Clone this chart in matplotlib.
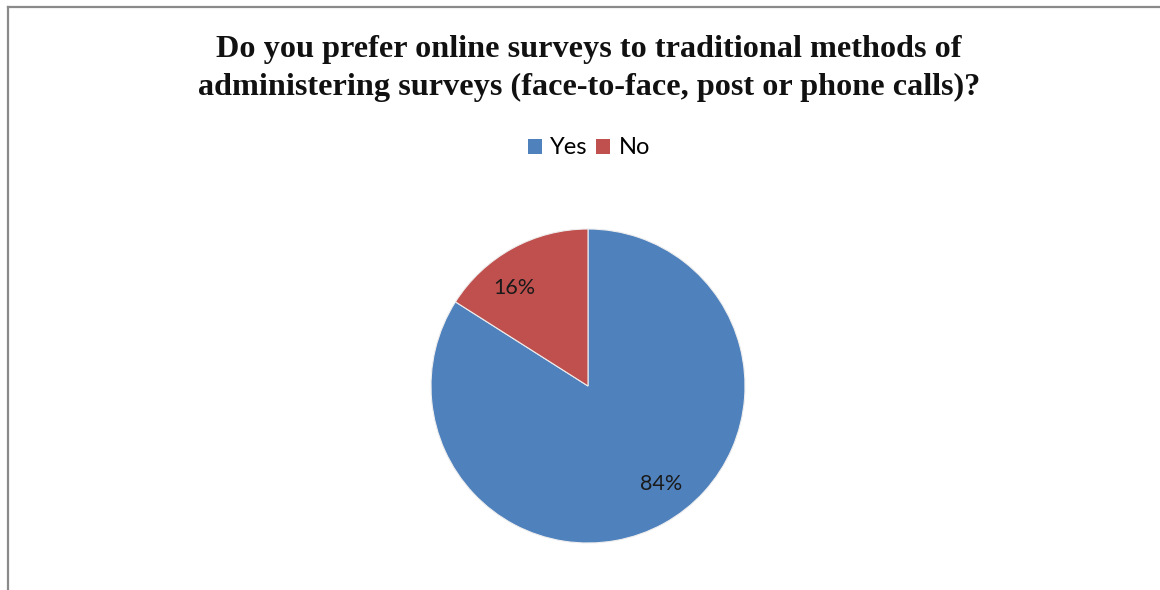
import numpy as np
import matplotlib.pyplot as plt
from matplotlib.lines import Line2D
from matplotlib.patches import Patch

labels = ["Yes", "No"]
shares = [84, 16]
colors = ["#4F81BD", "#C0504D"]
title = ("Do you prefer online surveys to traditional methods of\n"
         "administering surveys (face-to-face, post or phone calls)?")

W, H = 1160, 590
fig = plt.figure(figsize=(W / 100, H / 100), dpi=100)
fig.patch.set_facecolor("white")

# chart area border (only top and left edges are visible)
fig.add_artist(Line2D([8 / W, 8 / W], [0, 1 - 6.5 / H], transform=fig.transFigure,
                      color="#8a8a8a", lw=1.6))
fig.add_artist(Line2D([8 / W, 1], [1 - 6.5 / H, 1 - 6.5 / H], transform=fig.transFigure,
                      color="#8a8a8a", lw=1.6))

fig.text(589 / W, 1 - 68.5 / H, title, ha="center", va="center",
         fontsize=23.2, fontweight="bold", family="Liberation Serif",
         color="#111111", linespacing=1.38)

# pie centred at (588, 386) px, radius 157 px
cx, cy, r = 588, 386, 157
ax = fig.add_axes([(cx - r) / W, (H - cy - r) / H, 2 * r / W, 2 * r / H])
wedges, texts, autotexts = ax.pie(shares, colors=colors, startangle=90, counterclock=False,
                                  autopct=lambda p: "%d%%" % round(p), pctdistance=0.78,
                                  wedgeprops=dict(edgecolor="#eeeeee", linewidth=0.8))
# data labels sit a little counter-clockwise of the wedge middle
for w, t in zip(wedges, autotexts):
    ang = np.deg2rad((w.theta1 + w.theta2) / 2 + 8)
    t.set_position((0.78 * np.cos(ang), 0.78 * np.sin(ang)))
    t.set_fontsize(15.5)
    t.set_family("Lato")
    t.set_color("#1a1a1a")
ax.set_xlim(-1, 1)
ax.set_ylim(-1, 1)
ax.set_aspect("equal")

handles = [Patch(facecolor=c, edgecolor="none", label=l) for c, l in zip(colors, labels)]
fig.legend(handles=handles, loc="center", bbox_to_anchor=(589 / W, 1 - 148 / H), ncol=2,
           frameon=False, prop=dict(family="Lato", size=17), handlelength=0.6,
           handleheight=0.6, handletextpad=0.35, columnspacing=0.35)

fig.savefig("out.png", dpi=100)
